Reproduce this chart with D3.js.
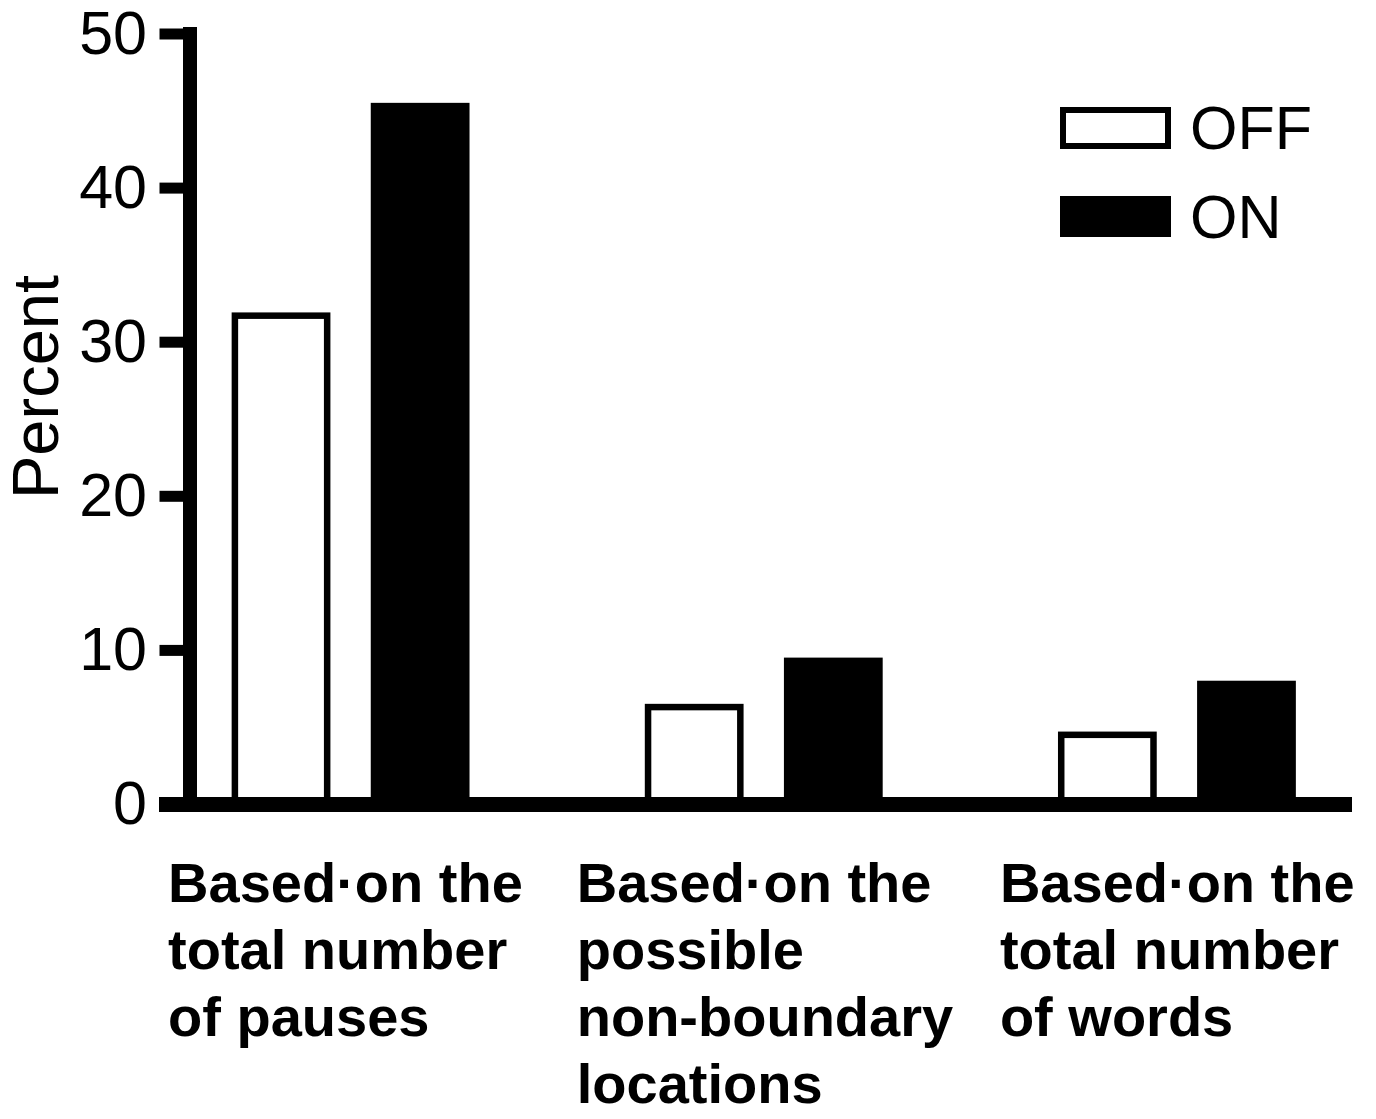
<!DOCTYPE html>
<html>
<head>
<meta charset="utf-8">
<script src="https://cdn.jsdelivr.net/npm/d3@7"></script>
<style>
  body { margin: 0; background: #fff; }
  svg { display: block; }
</style>
</head>
<body>
<div id="wrapper"></div>
<script>
const categories = ["pauses", "nonboundary", "words"]
const categoryLines = [
    ["Based·on the", "total number", "of pauses"],
    ["Based·on the", "possible", "non-boundary", "locations"],
    ["Based·on the", "total number", "of words"]
]
const seriesNames = ["OFF", "ON"]
const offValues = [31.9, 6.5, 4.7]
const onValues = [45.5, 9.5, 8.0]
const yTicks = [0, 10, 20, 30, 40, 50]

const width = 1376
const height = 1119

const wrapper = d3.select("#wrapper")
    .append("svg")
        .attr("width", width)
        .attr("height", height)

const yScale = d3.scaleLinear()
    .domain([0, 50])
    .range([804, 33.5])

const xScale = d3.scaleBand()
    .domain(categories)
    .range([144, 1383.5])

const subScale = d3.scaleBand()
    .domain(seriesNames)
    .range([0, xScale.bandwidth()])
    .paddingInner(0.29)
    .paddingOuter(0.63)

const data = categories.map((c, i) => ({
    cat: c,
    values: [
        { name: "OFF", value: offValues[i] },
        { name: "ON", value: onValues[i] }
    ]
}))

const offStroke = 6.5
// label starts sit a little off from the group centre in the original
const labelShift = [-182.5, -187, -177]

// bars
const groups = wrapper.selectAll(".group")
    .data(data)
    .join("g")
        .attr("transform", d => `translate(${xScale(d.cat)},0)`)

groups.selectAll("rect")
    .data(d => d.values)
    .join("rect")
        .attr("x", d => d.name == "OFF" ? subScale(d.name) + offStroke / 2 : subScale(d.name))
        .attr("y", d => d.name == "OFF" ? yScale(d.value) + offStroke / 2 : yScale(d.value))
        .attr("width", d => d.name == "OFF" ? subScale.bandwidth() - offStroke : subScale.bandwidth())
        .attr("height", d => d.name == "OFF" ? yScale(0) - yScale(d.value) - offStroke / 2 : yScale(0) - yScale(d.value))
        .attr("fill", d => d.name == "OFF" ? "#fff" : "#000")
        .attr("stroke", d => d.name == "OFF" ? "#000" : "none")
        .attr("stroke-width", offStroke)

// y axis
const yAxisGenerator = d3.axisLeft(yScale)
    .tickValues(yTicks)
    .tickSizeInner(30)
    .tickSizeOuter(0)
    .tickPadding(12.5)

const yAxis = wrapper.append("g")
    .attr("transform", "translate(189.5,0)")
    .call(yAxisGenerator)

yAxis.select(".domain")
    .attr("stroke", "#000")
    .attr("stroke-width", 14)
    .attr("stroke-linecap", "square")
yAxis.selectAll(".tick line")
    .attr("stroke", "#000")
    .attr("stroke-width", 11)
yAxis.selectAll(".tick text")
    .attr("fill", "#000")
    .style("font-family", "'Liberation Sans', Arial, sans-serif")
    .style("font-size", "61px")

// x axis baseline
wrapper.append("line")
    .attr("x1", 159)
    .attr("x2", 1352)
    .attr("y1", yScale(0) + 0.5)
    .attr("y2", yScale(0) + 0.5)
    .attr("stroke", "#000")
    .attr("stroke-width", 15)

// category labels (pulled up a touch so the 4th line stays inside the frame)
const labels = wrapper.selectAll(".cat-label")
    .data(data)
    .join("text")
        .attr("class", "cat-label")
        .attr("x", (d, i) => xScale(d.cat) + xScale.bandwidth() / 2 + labelShift[i])
        .attr("y", 902)
        .style("font-family", "'Liberation Sans', Arial, sans-serif")
        .style("font-weight", "bold")
        .style("font-size", "56px")
        .attr("fill", "#000")

labels.selectAll("tspan")
    .data((d, i) => categoryLines[i])
    .join("tspan")
        .attr("x", function () { return d3.select(this.parentNode).attr("x") })
        .attr("dy", (d, i) => i == 0 ? 0 : 67)
        .text(d => d)

// y label
wrapper.append("text")
    .attr("transform", "translate(58,387) rotate(-90)")
    .attr("text-anchor", "middle")
    .style("font-family", "'Liberation Sans', Arial, sans-serif")
    .style("font-size", "65px")
    .attr("fill", "#000")
    .text("Percent")

// legend
const legend = wrapper.append("g")
const legendRows = [
    { name: "OFF", y: 107 },
    { name: "ON", y: 196 }
]
legend.selectAll("rect")
    .data(legendRows)
    .join("rect")
        .attr("x", d => d.name == "OFF" ? 1063 : 1060)
        .attr("y", d => d.name == "OFF" ? d.y + 3 : d.y)
        .attr("width", d => d.name == "OFF" ? 105 : 111)
        .attr("height", d => d.name == "OFF" ? 36 : 41)
        .attr("fill", d => d.name == "OFF" ? "#fff" : "#000")
        .attr("stroke", d => d.name == "OFF" ? "#000" : "none")
        .attr("stroke-width", 6)
legend.selectAll("text")
    .data(legendRows)
    .join("text")
        .attr("x", 1190)
        .attr("y", d => d.y + 42)
        .style("font-family", "'Liberation Sans', Arial, sans-serif")
        .style("font-size", "61px")
        .attr("fill", "#000")
        .text(d => d.name)
</script>
</body>
</html>
